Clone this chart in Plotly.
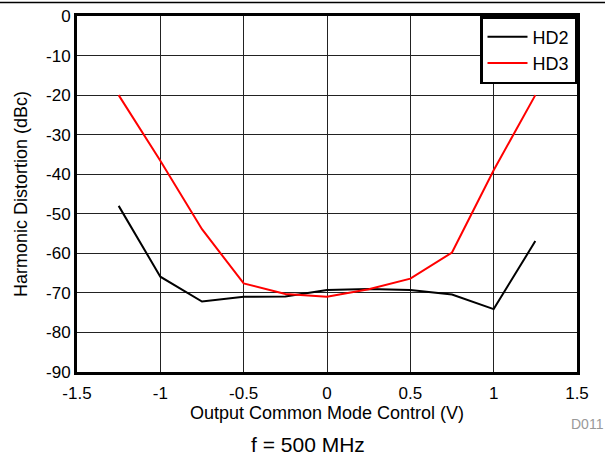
import plotly.graph_objects as go

x_vals = [-1.25, -1.0, -0.75, -0.5, -0.25, 0.0, 0.25, 0.5, 0.75, 1.0, 1.25]
hd2 = [-48.0, -65.9, -72.2, -71.0, -70.9, -69.3, -69.0, -69.3, -70.4, -74.1, -56.9]
hd3 = [-20.0, -36.6, -53.9, -67.6, -70.3, -71.0, -69.1, -66.4, -59.8, -39.0, -20.0]

x_ticks = [-1.5, -1.0, -0.5, 0.0, 0.5, 1.0, 1.5]
x_tick_text = ["-1.5", "-1", "-0.5", "0", "0.5", "1", "1.5"]
y_ticks = [0, -10, -20, -30, -40, -50, -60, -70, -80, -90]
y_tick_text = ["0", "-10", "-20", "-30", "-40", "-50", "-60", "-70", "-80", "-90"]

FONT = "Liberation Sans, Arial, sans-serif"
W, H = 605, 458
L, R, T, B = 77, 28, 16, 86
PW, PH = W - L - R, H - T - B

def px(xp):
    return (xp - L) / PW

def py(yp):
    return (H - B - yp) / PH

fig = go.Figure()
fig.add_trace(go.Scatter(x=x_vals, y=hd2, mode="lines", name="HD2",
                         line=dict(color="black", width=2)))
fig.add_trace(go.Scatter(x=x_vals, y=hd3, mode="lines", name="HD3",
                         line=dict(color="#ff0000", width=2)))

fig.update_layout(
    width=W, height=H,
    margin=dict(l=L, r=R, t=T, b=B, autoexpand=False),
    paper_bgcolor="white", plot_bgcolor="white",
    font=dict(family=FONT, size=17, color="black"),
    showlegend=True,
    legend=dict(x=1, y=1, xanchor="right", yanchor="top",
                bordercolor="black", borderwidth=2.5, bgcolor="white",
                font=dict(size=18, family=FONT),
                tracegroupgap=0, itemwidth=40),
    xaxis=dict(range=[-1.5, 1.5], tickvals=x_ticks, ticktext=x_tick_text,
               showgrid=True, gridcolor="#222", gridwidth=1,
               showline=True, linecolor="black", linewidth=3, mirror=True,
               ticks="", zeroline=False, ticklabelstandoff=4,
               automargin=False, tickfont=dict(size=17),
               title=dict(text="Output Common Mode Control (V)", standoff=4,
                          font=dict(size=18))),
    yaxis=dict(range=[-90, 0], tickvals=y_ticks, ticktext=y_tick_text,
               showgrid=True, gridcolor="#222", gridwidth=1,
               showline=True, linecolor="black", linewidth=3, mirror=True,
               ticks="", zeroline=False, ticklabelstandoff=0,
               automargin=False, tickfont=dict(size=17),
               title=dict(text="Harmonic Distortion (dBc)", standoff=14,
                          font=dict(size=18))),
    shapes=[dict(type="line", xref="paper", yref="paper",
                 x0=px(0), x1=px(W), y0=py(2.5), y1=py(2.5),
                 line=dict(color="black", width=1.5))],
    annotations=[
        dict(text="f = 500 MHz", xref="paper", yref="paper",
             x=px(308), y=py(444), xanchor="center", yanchor="middle",
             showarrow=False, font=dict(size=21)),
        dict(text="D011", xref="paper", yref="paper",
             x=px(606), y=py(424), xanchor="right", yanchor="middle",
             showarrow=False, font=dict(size=14, color="#999999")),
    ],
)

fig.write_html(
    "out.html",
    config={"displayModeBar": False},
    post_script=(
        "document.body.style.margin='0';"
        "document.documentElement.style.margin='0';"
        "var d=document.getElementsByClassName('plotly-graph-div')[0];"
        "d.style.position='fixed';d.style.top='0px';d.style.left='0px';"
    ),
)
